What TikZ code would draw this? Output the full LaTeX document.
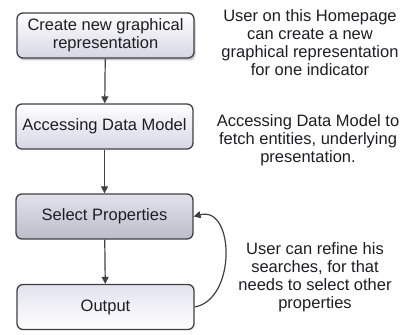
\documentclass[tikz,border=0pt]{standalone}
\usepackage{fontspec}
\setmainfont{Liberation Sans}
\usetikzlibrary{arrows.meta,shadows}
\definecolor{edgegray}{RGB}{64,64,68}
\definecolor{txtgray}{RGB}{30,30,34}
\definecolor{boxlow}{RGB}{214,214,228}
\definecolor{boxdark}{RGB}{188,188,202}
\definecolor{boxtop}{RGB}{226,226,238}

\begin{document}
\begin{tikzpicture}[x=1pt,y=-1pt,
	every node/.style={font=\fontsize{16.5}{18}\selectfont, text=txtgray},
	stepbox/.style={draw=edgegray, line width=1.3pt, rounded corners=6pt,
		minimum width=177pt, minimum height=45pt, align=center,
		top color=white, bottom color=boxlow},
	note/.style={align=center, inner sep=0pt},
	arr/.style={draw=edgegray, line width=1.2pt, -{Triangle[length=7pt,width=7pt]}}]
	\useasboundingbox (0,0) rectangle (411,334);
	% boxes on the left
	\node[stepbox, drop shadow={opacity=0.4, shadow xshift=1.5pt, shadow yshift=-2.5pt}] (create) at (105.5,35.5) {Create new graphical\\representation};
	\node[stepbox] (access) at (104.5,126.5) {Accessing Data Model};
	\node[stepbox, top color=boxtop, bottom color=boxdark] (select) at (104.5,216.5) {Select Properties};
	\node[stepbox, top color=boxtop, bottom color=white] (output) at (105.5,307) {Output};
	% notes on the right
	\node[note] (n1) at (310,43) {User on this Homepage\\can create a new\\graphical representation\\for one indicator};
	\node[note] (n2) at (308,140) {Accessing Data Model to\\fetch entities, underlying\\presentation.};
	\node[note] (n3) at (315,277.5) {User can refine his\\searches, for that\\needs to select other\\properties};
	% arrows
	\draw[arr] (create) -- (access);
	\draw[arr] (access) -- (select);
	\draw[arr] (select) -- (output);
	\draw[arr] (output.east) to[out=10,in=15,looseness=1.2] (select.east);
\end{tikzpicture}
\end{document}
